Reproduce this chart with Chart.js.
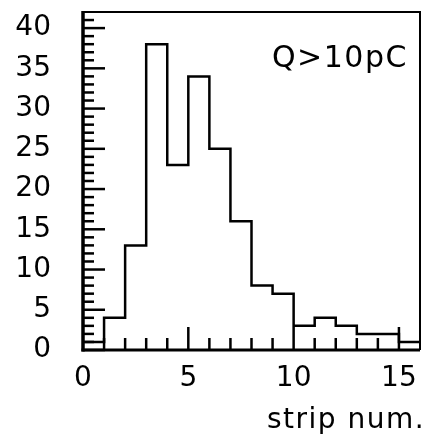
<!DOCTYPE html>
<html>
<head>
<meta charset="utf-8">
<script src="https://cdn.jsdelivr.net/npm/chart.js@4"></script>
<style>
  html, body { margin: 0; padding: 0; background: #fff; }
  #wrap { width: 427px; height: 441px; }
</style>
</head>
<body>
<div id="wrap"><canvas id="c" width="427" height="441"></canvas></div>
<script>
// ---- data ----
const binEdges = [0, 1, 2, 3, 4, 5, 6, 7, 8, 9, 10, 11, 12, 13, 14, 15];
const counts   = [1, 4, 13, 38, 23, 34, 25, 16, 8, 7, 3, 4, 3, 2, 2, 1];
const binWidth = 1;
const xTicks = [0, 5, 10, 15];
const yTicks = [0, 5, 10, 15, 20, 25, 30, 35, 40];
const xTitle = 'strip num.';
const annotation = 'Q>10pC';
const xRange = [0, 16];
const yRange = [0, 42];

const FONT = 'DejaVu Sans';
const WEIGHT = '400';

const points = binEdges.map((e, i) => ({ x: e, y: counts[i] }));
points.push({ x: binEdges[binEdges.length - 1] + binWidth, y: counts[counts.length - 1] });

const framePlugin = {
  id: 'frame',
  afterDatasetsDraw(chart) {
    const { ctx, chartArea: a, scales: { x, y } } = chart;
    ctx.save();
    ctx.strokeStyle = '#000';
    ctx.lineCap = 'butt';
    // frame
    ctx.lineWidth = 2;
    ctx.beginPath();
    ctx.moveTo(a.left, a.top); ctx.lineTo(a.right, a.top); ctx.lineTo(a.right, a.bottom);
    ctx.stroke();
    ctx.lineWidth = 3.5;
    ctx.beginPath();
    ctx.moveTo(a.left, a.top - 1); ctx.lineTo(a.left, a.bottom + 1.5);
    ctx.stroke();
    ctx.lineWidth = 3;
    ctx.beginPath();
    ctx.moveTo(a.left - 1.5, a.bottom); ctx.lineTo(a.right, a.bottom);
    ctx.stroke();
    // y ticks (inside)
    ctx.lineWidth = 2.5;
    for (let v = yRange[0]; v <= yRange[1] - 1; v++) {
      const py = y.getPixelForValue(v);
      const len = v % 5 === 0 ? 22 : 11;
      ctx.beginPath(); ctx.moveTo(a.left, py); ctx.lineTo(a.left + len, py); ctx.stroke();
    }
    // x ticks (inside)
    for (let v = xRange[0] + 1; v < xRange[1]; v++) {
      const px = x.getPixelForValue(v);
      const len = v % 5 === 0 ? 23 : 12;
      ctx.beginPath(); ctx.moveTo(px, a.bottom); ctx.lineTo(px, a.bottom - len); ctx.stroke();
    }
    // texts
    ctx.fillStyle = '#000';
    ctx.textAlign = 'left';
    ctx.textBaseline = 'alphabetic';
    try { ctx.letterSpacing = '1.5px'; } catch (e) {}
    ctx.font = WEIGHT + ' 30px "' + FONT + '"';
    ctx.fillText(annotation, 272, 67);
    ctx.font = WEIGHT + ' 28px "' + FONT + '"';
    ctx.fillText(xTitle, 267, 428);
    ctx.restore();
  }
};

new Chart(document.getElementById('c'), {
  type: 'line',
  data: {
    datasets: [{
      data: points,
      stepped: 'before',
      borderColor: '#000',
      borderWidth: 2.5,
      pointRadius: 0,
      fill: false,
      clip: false
    }]
  },
  options: {
    responsive: false,
    animation: false,
    devicePixelRatio: 1,
    layout: { padding: { left: 0, top: 12, right: 7, bottom: 0 } },
    plugins: { legend: { display: false }, tooltip: { enabled: false } },
    scales: {
      x: {
        type: 'linear',
        min: xRange[0], max: xRange[1],
        grid: { display: false, drawTicks: false },
        border: { display: false },
        afterBuildTicks: (s) => { s.ticks = xTicks.map(v => ({ value: v })); },
        afterFit: (s) => { s.height = 91; s.paddingLeft = 0; s.paddingRight = 0; },
        ticks: {
          color: '#000', padding: 12, maxRotation: 0, autoSkip: false,
          font: { family: FONT, size: 28, weight: WEIGHT }
        },
        title: { display: false }
      },
      y: {
        type: 'linear',
        min: yRange[0], max: yRange[1],
        grid: { display: false, drawTicks: false },
        border: { display: false },
        afterBuildTicks: (s) => { s.ticks = yTicks.map(v => ({ value: v })); },
        afterFit: (s) => { s.width = 83; s.paddingTop = 0; s.paddingBottom = 0; },
        ticks: {
          color: '#000', padding: 32, autoSkip: false,
          font: { family: FONT, size: 28, weight: WEIGHT }
        }
      }
    }
  },
  plugins: [framePlugin]
});
</script>
</body>
</html>
